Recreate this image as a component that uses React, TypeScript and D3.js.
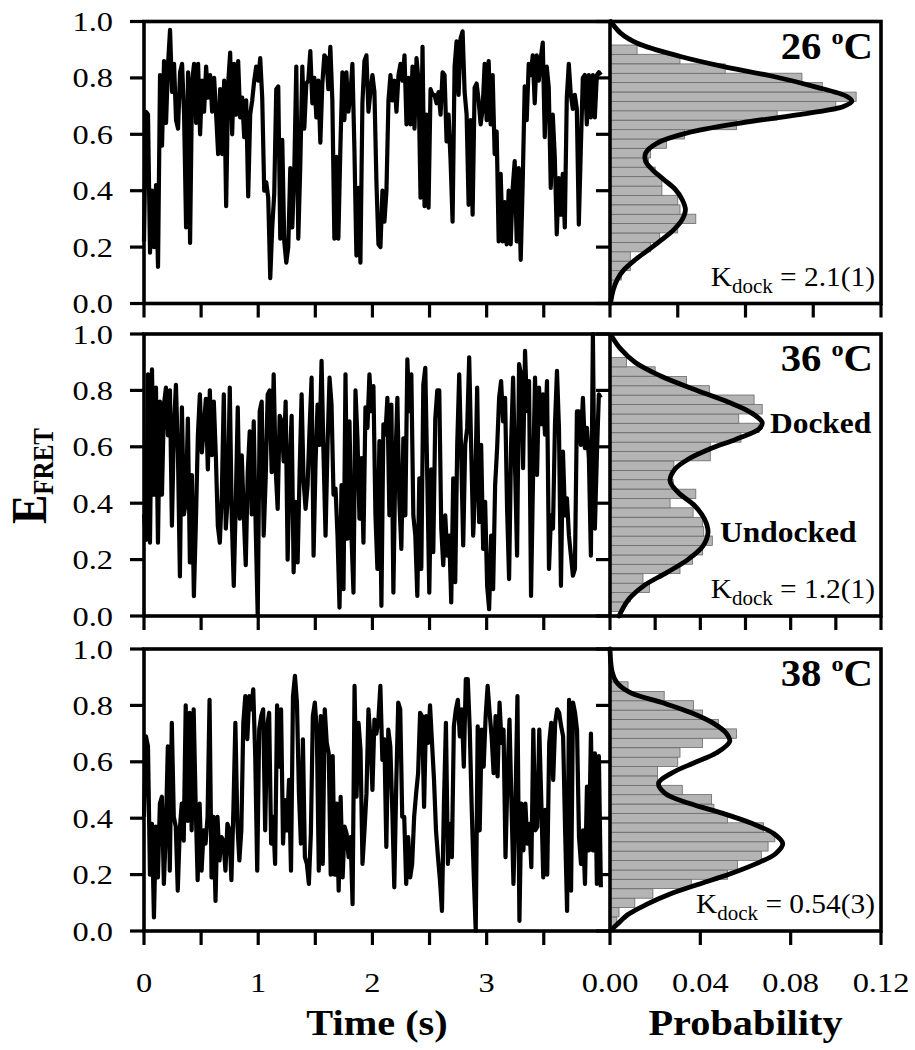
import React from 'react';
import * as d3 from 'd3';

// smFRET traces (E_FRET vs time) and their histograms at three temperatures.
// Trace samples are evenly spaced from t = 0 to TRACE_END.
const TRACE_END = 4.0;

const TRACE_26 = [
  0.22, 0.68, 0.67, 0.18, 0.40, 0.20, 0.42, 0.13, 0.81, 0.56,
  0.86, 0.64, 0.85, 0.97, 0.75, 0.85, 0.65, 0.62, 0.82, 0.85,
  0.67, 0.27, 0.82, 0.215, 0.79, 0.85, 0.64, 0.85, 0.60, 0.79,
  0.68, 0.84, 0.73, 0.81, 0.68, 0.80, 0.67, 0.53, 0.76, 0.53,
  0.79, 0.345, 0.78, 0.89, 0.60, 0.85, 0.67, 0.86, 0.66, 0.73,
  0.59, 0.72, 0.38, 0.67, 0.72, 0.79, 0.84, 0.79, 0.87, 0.73,
  0.40, 0.43, 0.375, 0.09, 0.27, 0.39, 0.76, 0.77, 0.23, 0.58,
  0.22, 0.145, 0.20, 0.48, 0.27, 0.47, 0.84, 0.23, 0.49, 0.84,
  0.62, 0.78, 0.79, 0.895, 0.71, 0.80, 0.66, 0.79, 0.57, 0.78,
  0.88, 0.87, 0.76, 0.91, 0.72, 0.23, 0.52, 0.23, 0.55, 0.82,
  0.65, 0.82, 0.68, 0.74, 0.85, 0.55, 0.17, 0.41, 0.145, 0.71,
  0.86, 0.88, 0.68, 0.75, 0.81, 0.75, 0.43, 0.21, 0.20, 0.40,
  0.29, 0.40, 0.72, 0.81, 0.72, 0.79, 0.68, 0.81, 0.85, 0.79,
  0.88, 0.635, 0.80, 0.635, 0.84, 0.62, 0.87, 0.79, 0.375, 0.91,
  0.345, 0.67, 0.34, 0.76, 0.74, 0.74, 0.71, 0.75, 0.67, 0.82,
  0.81, 0.575, 0.67, 0.505, 0.29, 0.84, 0.93, 0.74, 0.94, 0.965,
  0.75, 0.67, 0.35, 0.65, 0.315, 0.765, 0.78, 0.72, 0.635, 0.69,
  0.85, 0.65, 0.86, 0.635, 0.81, 0.53, 0.61, 0.22, 0.46, 0.22,
  0.36, 0.21, 0.40, 0.21, 0.41, 0.505, 0.22, 0.48, 0.155, 0.43,
  0.77, 0.65, 0.85, 0.81, 0.88, 0.71, 0.88, 0.79, 0.87, 0.925,
  0.59, 0.84, 0.765, 0.41, 0.67, 0.52, 0.245, 0.445, 0.315, 0.46,
  0.27, 0.73, 0.85, 0.74, 0.69, 0.74, 0.69, 0.28, 0.55, 0.80,
  0.81, 0.635, 0.81, 0.66, 0.81, 0.66, 0.81, 0.82, 0.81,
];

const TRACE_36 = [
  0.36, 0.27, 0.857, 0.26, 0.875, 0.43, 0.81, 0.26, 0.76, 0.43,
  0.75, 0.81, 0.64, 0.80, 0.32, 0.67, 0.82, 0.58, 0.14, 0.74,
  0.36, 0.405, 0.70, 0.19, 0.50, 0.07, 0.33, 0.64, 0.786, 0.58,
  0.67, 0.77, 0.52, 0.80, 0.57, 0.76, 0.57, 0.32, 0.26, 0.43,
  0.786, 0.31, 0.42, 0.81, 0.345, 0.107, 0.405, 0.74, 0.345, 0.57,
  0.36, 0.18, 0.51, 0.655, 0.36, 0.69, 0.31, 0.0, 0.726, 0.76,
  0.285, 0.49, 0.786, 0.80, 0.51, 0.857, 0.52, 0.38, 0.71, 0.69,
  0.548, 0.76, 0.20, 0.535, 0.71, 0.155, 0.405, 0.19, 0.51, 0.786,
  0.476, 0.38, 0.464, 0.667, 0.845, 0.214, 0.548, 0.75, 0.607, 0.905,
  0.57, 0.285, 0.607, 0.845, 0.75, 0.43, 0.452, 0.285, 0.03, 0.464,
  0.095, 0.857, 0.274, 0.69, 0.285, 0.083, 0.80, 0.63, 0.345, 0.56,
  0.26, 0.74, 0.667, 0.857, 0.726, 0.815, 0.36, 0.167, 0.62, 0.036,
  0.68, 0.643, 0.774, 0.357, 0.75, 0.083, 0.548, 0.774, 0.405, 0.238,
  0.63, 0.357, 0.91, 0.726, 0.857, 0.357, 0.285, 0.071, 0.488, 0.167,
  0.82, 0.88, 0.488, 0.083, 0.52, 0.226, 0.70, 0.80, 0.80, 0.31,
  0.18, 0.357, 0.214, 0.285, 0.048, 0.488, 0.12, 0.607, 0.857, 0.57,
  0.25, 0.607, 0.667, 0.917, 0.595, 0.285, 0.452, 0.81, 0.333, 0.607,
  0.238, 0.405, 0.107, 0.024, 0.285, 0.095, 0.464, 0.595, 0.774, 0.833,
  0.69, 0.774, 0.38, 0.131, 0.607, 0.845, 0.524, 0.214, 0.893, 0.857,
  0.524, 0.94, 0.726, 0.833, 0.071, 0.488, 0.845, 0.50, 0.81, 0.68,
  0.786, 0.643, 0.833, 0.167, 0.357, 0.31, 0.68, 0.869, 0.667, 0.107,
  0.583, 0.357, 0.417, 0.285, 0.214, 0.143, 0.167, 0.726, 0.726, 0.607,
  0.774, 0.595, 0.667, 0.56, 0.214, 1.0, 0.31, 0.57, 0.786, 0.774,
];

const TRACE_38 = [
  0.405, 0.69, 0.655, 0.20, 0.38, 0.048, 0.37, 0.19, 0.452, 0.476,
  0.167, 0.357, 0.655, 0.214, 0.738, 0.405, 0.37, 0.143, 0.357, 0.452,
  0.32, 0.80, 0.39, 0.774, 0.357, 0.786, 0.452, 0.18, 0.452, 0.214,
  0.357, 0.31, 0.405, 0.82, 0.19, 0.405, 0.107, 0.405, 0.25, 0.333,
  0.32, 0.214, 0.38, 0.357, 0.18, 0.43, 0.738, 0.38, 0.25, 0.357,
  0.738, 0.833, 0.68, 0.833, 0.786, 0.857, 0.62, 0.214, 0.714, 0.762,
  0.786, 0.357, 0.726, 0.774, 0.31, 0.405, 0.238, 0.80, 0.583, 0.786,
  0.31, 0.464, 0.357, 0.536, 0.214, 0.833, 0.905, 0.81, 0.488, 0.31,
  0.68, 0.262, 0.238, 0.167, 0.345, 0.762, 0.81, 0.714, 0.214, 0.762,
  0.238, 0.786, 0.667, 0.63, 0.20, 0.62, 0.20, 0.452, 0.143, 0.476,
  0.19, 0.37, 0.345, 0.262, 0.333, 0.095, 0.869, 0.476, 0.738, 0.643,
  0.238, 0.357, 0.488, 0.786, 0.68, 0.50, 0.75, 0.70, 0.75, 0.869,
  0.607, 0.68, 0.298, 0.714, 0.655, 0.43, 0.155, 0.524, 0.81, 0.786,
  0.405, 0.405, 0.167, 0.333, 0.19, 0.238, 0.405, 0.488, 0.56, 0.774,
  0.762, 0.44, 0.762, 0.667, 0.80, 0.667, 0.536, 0.357, 0.262, 0.18,
  0.071, 0.452, 0.738, 0.238, 0.38, 0.262, 0.726, 0.786, 0.82, 0.69,
  0.786, 0.583, 0.893, 0.893, 0.714, 0.43, 0.20, 0.0, 0.726, 0.357,
  0.714, 0.583, 0.762, 0.869, 0.774, 0.69, 0.56, 0.762, 0.548, 0.81,
  0.667, 0.714, 0.262, 0.548, 0.75, 0.452, 0.167, 0.452, 0.833, 0.036,
  0.452, 0.286, 0.452, 0.31, 0.38, 0.226, 0.714, 0.357, 0.37, 0.714,
  0.464, 0.19, 0.43, 0.20, 0.667, 0.738, 0.536, 0.738, 0.786, 0.774,
  0.726, 0.69, 0.357, 0.071, 0.82, 0.143, 0.81, 0.774, 0.714, 0.333,
  0.238, 0.357, 0.167, 0.512, 0.286, 0.70, 0.286, 0.63, 0.167, 0.62,
  0.155,
];

// histogram bins (E_FRET centres, width 1/30)
const BIN_WIDTH = 1 / 30;
const BIN_CENTERS = [
  0.033, 0.067, 0.1, 0.133, 0.167, 0.2, 0.233, 0.267, 0.3, 0.333,
  0.367, 0.4, 0.433, 0.467, 0.5, 0.533, 0.567, 0.6, 0.633, 0.667,
  0.7, 0.733, 0.767, 0.8, 0.833, 0.867, 0.9,
];

const HIST_26 = [
  0.001, 0.002, 0.005, 0.009, 0.009, 0.018, 0.022, 0.030, 0.038, 0.031,
  0.030, 0.023, 0.023, 0.020, 0.017, 0.018, 0.025, 0.033, 0.056, 0.074,
  0.100, 0.109, 0.094, 0.085, 0.051, 0.031, 0.012,
];
const HIST_36 = [
  0.006, 0.009, 0.0175, 0.0146, 0.031, 0.0365, 0.041, 0.0453, 0.0415, 0.041,
  0.0368, 0.0266, 0.038, 0.028, 0.027, 0.0283, 0.0444, 0.0444, 0.058, 0.066,
  0.057, 0.0674, 0.0638, 0.044, 0.0339, 0.02, 0.0073,
];
const HIST_38 = [
  0.003, 0.004, 0.011, 0.019, 0.036, 0.052, 0.0565, 0.067, 0.070, 0.073,
  0.068, 0.052, 0.046, 0.045, 0.032, 0.021, 0.021, 0.030, 0.031, 0.041,
  0.056, 0.048, 0.041, 0.037, 0.024, 0.008, 0.002,
];

// two-state fits, read as [E_FRET, probability]
const FIT_26: [number, number][] = [
  [1.0, 0.0003], [0.959, 0.0047], [0.923, 0.0121], [0.876, 0.0312], [0.84, 0.0504],
  [0.805, 0.0725], [0.77, 0.0901], [0.734, 0.1049], [0.717, 0.1071], [0.699, 0.1034],
  [0.669, 0.0828], [0.64, 0.0577], [0.605, 0.0342], [0.569, 0.0209], [0.534, 0.0158],
  [0.504, 0.0158], [0.475, 0.0187], [0.439, 0.0239], [0.404, 0.029], [0.368, 0.032],
  [0.333, 0.0334], [0.298, 0.032], [0.262, 0.0283], [0.227, 0.0231], [0.191, 0.0172],
  [0.156, 0.0113], [0.12, 0.0062], [0.085, 0.0032], [0.05, 0.0015], [0.0, 0.0002],
];
const FIT_36: [number, number][] = [
  [0.994, 0.0006], [0.947, 0.0047], [0.899, 0.0112], [0.852, 0.0222], [0.805, 0.0368],
  [0.757, 0.0528], [0.722, 0.0623], [0.686, 0.0674], [0.663, 0.066], [0.627, 0.0558],
  [0.592, 0.0441], [0.556, 0.0346], [0.521, 0.0288], [0.479, 0.0266], [0.438, 0.0302],
  [0.391, 0.0375], [0.343, 0.0419], [0.296, 0.0434], [0.249, 0.0412], [0.201, 0.0346],
  [0.154, 0.0251], [0.107, 0.0149], [0.059, 0.0083], [0.0, 0.004],
];
const FIT_38: [number, number][] = [
  [1.0, 0.0], [0.917, 0.001], [0.881, 0.003], [0.845, 0.009], [0.81, 0.023],
  [0.774, 0.036], [0.738, 0.0455], [0.702, 0.0514], [0.672, 0.053], [0.631, 0.047],
  [0.595, 0.0368], [0.56, 0.0273], [0.524, 0.0215], [0.488, 0.0244], [0.452, 0.0353],
  [0.417, 0.05], [0.381, 0.063], [0.345, 0.0726], [0.31, 0.0765], [0.274, 0.0733],
  [0.238, 0.0645], [0.202, 0.053], [0.167, 0.0397], [0.131, 0.0266], [0.095, 0.0164],
  [0.06, 0.0083], [0.024, 0.0032], [0.0, 0.0],
];

const TEMPS = ['26', '36', '38'];
const KDOCK = ['2.1(1)', '1.2(1)', '0.54(3)'];

const E_TICKS = [0, 0.2, 0.4, 0.6, 0.8, 1.0];
const TIME_TICKS = [0, 0.5, 1, 1.5, 2, 2.5, 3, 3.5];
const TIME_LABELS = [0, 1, 2, 3];
const PROB_TICKS_26 = [0, 0.03, 0.06, 0.09, 0.12];
const PROB_TICKS_36 = [0, 0.02, 0.04, 0.06, 0.08, 0.1, 0.12];
const PROB_TICKS_38 = [0, 0.04, 0.08, 0.12];
const PROB_LABELS = [0, 0.04, 0.08, 0.12];

// state labels in the 36 oC histogram: [text, probability, E_FRET at baseline]
const STATE_LABELS: [string, number, number][] = [
  ['Docked', 0.0708, 0.648],
  ['Undocked', 0.0487, 0.261],
];

const PANELS = [
  { temp: TEMPS[0], kdock: KDOCK[0], trace: TRACE_26, hist: HIST_26, fit: FIT_26, probTicks: PROB_TICKS_26 },
  { temp: TEMPS[1], kdock: KDOCK[1], trace: TRACE_36, hist: HIST_36, fit: FIT_36, probTicks: PROB_TICKS_36 },
  { temp: TEMPS[2], kdock: KDOCK[2], trace: TRACE_38, hist: HIST_38, fit: FIT_38, probTicks: PROB_TICKS_38 },
];

// layout
const W = 915;
const H = 1050;
const LEFT = 144;
const SPLIT = 610;
const RIGHT = 881;
const PANEL_TOPS = [21.5, 334, 649];
const PANEL_H = 282;
const TICK = 14;
const FONT = "'Liberation Serif', 'Times New Roman', Times, serif";

const x = d3.scaleLinear().domain([0, 4.08]).range([LEFT, SPLIT]);
const p = d3.scaleLinear().domain([0, 0.12]).range([SPLIT, RIGHT]);

// the original figure is stretched sideways, so text gets a small x-scale
const Txt = ({ x: tx, y: ty, sx = 1.2, anchor = 'start', children, ...rest }: any) => (
  <text transform={`translate(${tx},${ty}) scale(${sx},1)`} textAnchor={anchor} {...rest}>
    {children}
  </text>
);

const Panel = ({ panel, top, index }: any) => {
  const bottom = top + PANEL_H;
  const y = d3.scaleLinear().domain([0, 1]).range([bottom, top]);
  const dt = TRACE_END / (panel.trace.length - 1);

  const traceLine = d3.line<number>()
    .x((_, i) => x(i * dt))
    .y(d => y(d));

  const fitLine = d3.line<[number, number]>()
    .x(d => p(d[1]))
    .y(d => y(d[0]))
    .curve(d3.curveCatmullRom.alpha(0.5));

  return (
    <g>
      {/* histogram bars */}
      {panel.hist.map((v: number, k: number) => {
        const c = BIN_CENTERS[k];
        return (
          <rect
            key={k}
            x={p(0)}
            y={y(c + BIN_WIDTH / 2)}
            width={p(v) - p(0)}
            height={y(c - BIN_WIDTH / 2) - y(c + BIN_WIDTH / 2)}
            fill="#b4b4b4"
            stroke="#6a6a6a"
            strokeWidth={0.8}
          />
        );
      })}

      {/* time trace */}
      <path d={traceLine(panel.trace) || ''} fill="none" stroke="#000" strokeWidth={4.2} strokeLinejoin="round" />

      {/* fit */}
      <path d={fitLine(panel.fit) || ''} fill="none" stroke="#000" strokeWidth={4.8} strokeLinecap="round" />

      {/* frame */}
      <rect x={LEFT} y={top} width={RIGHT - LEFT} height={PANEL_H} fill="none" stroke="#000" strokeWidth={3.6} />
      <line x1={SPLIT} x2={SPLIT} y1={top} y2={bottom} stroke="#000" strokeWidth={3.6} />

      {/* ticks */}
      {E_TICKS.map(t => (
        <g key={t}>
          <line x1={LEFT - TICK} x2={LEFT} y1={y(t)} y2={y(t)} stroke="#000" strokeWidth={3.2} />
          <line x1={SPLIT - TICK} x2={SPLIT} y1={y(t)} y2={y(t)} stroke="#000" strokeWidth={3.2} />
          <Txt x={113} y={y(t) + 9.5} anchor="end" fontSize={27}>{d3.format('.1f')(t)}</Txt>
        </g>
      ))}
      {TIME_TICKS.map(t => (
        <line key={t} x1={x(t)} x2={x(t)} y1={bottom} y2={bottom + TICK} stroke="#000" strokeWidth={3.2} />
      ))}
      {panel.probTicks.map((t: number) => (
        <line key={t} x1={p(t)} x2={p(t)} y1={bottom} y2={bottom + TICK} stroke="#000" strokeWidth={3.2} />
      ))}

      {/* annotations */}
      <Txt x={873} y={top + 37} anchor="end" sx={1.1} fontSize={37} fontWeight="bold">
        {panel.temp}{' '}
        <tspan fontSize={22} dy={-15}>o</tspan>
        <tspan dy={15}>C</tspan>
      </Txt>
      <Txt x={875} y={bottom - 18} anchor="end" sx={1.05} fontSize={28}>
        K<tspan fontSize={20} dy={7}>dock</tspan>
        <tspan dy={-7}>{` = ${panel.kdock}`}</tspan>
      </Txt>
      {index === 1 && STATE_LABELS.map(([label, pv, ev]) => (
        <Txt key={label} x={p(pv)} y={y(ev)} sx={1.05} fontSize={30} fontWeight="bold">{label}</Txt>
      ))}
    </g>
  );
};

export default function App() {
  const labelY = 992;
  return (
    <svg
      width={W}
      height={H}
      fontFamily={FONT}
      style={{ position: 'absolute', left: 0, top: 0, background: '#fff' }}
    >
      <rect width={W} height={H} fill="#fff" />
      {PANELS.map((panel, i) => (
        <Panel key={i} panel={panel} top={PANEL_TOPS[i]} index={i} />
      ))}

      {/* bottom tick labels */}
      {TIME_LABELS.map(t => (
        <Txt key={t} x={x(t)} y={labelY} anchor="middle" fontSize={27}>{t}</Txt>
      ))}
      {PROB_LABELS.map(t => (
        <Txt key={t} x={p(t)} y={labelY} anchor="middle" fontSize={27}>{d3.format('.2f')(t)}</Txt>
      ))}

      {/* axis titles */}
      <Txt x={(x(0) + SPLIT) / 2} y={1035} anchor="middle" sx={1.12} fontSize={36} fontWeight="bold">Time (s)</Txt>
      <Txt x={(SPLIT + RIGHT) / 2} y={1035} anchor="middle" sx={1.12} fontSize={36} fontWeight="bold">Probability</Txt>
      <text
        transform={`translate(46,476) scale(1.15,1) rotate(-90)`}
        textAnchor="middle"
        fontWeight="bold"
      >
        <tspan fontSize={44}>E</tspan>
        <tspan fontSize={25} dy={6}>FRET</tspan>
      </text>
    </svg>
  );
}
